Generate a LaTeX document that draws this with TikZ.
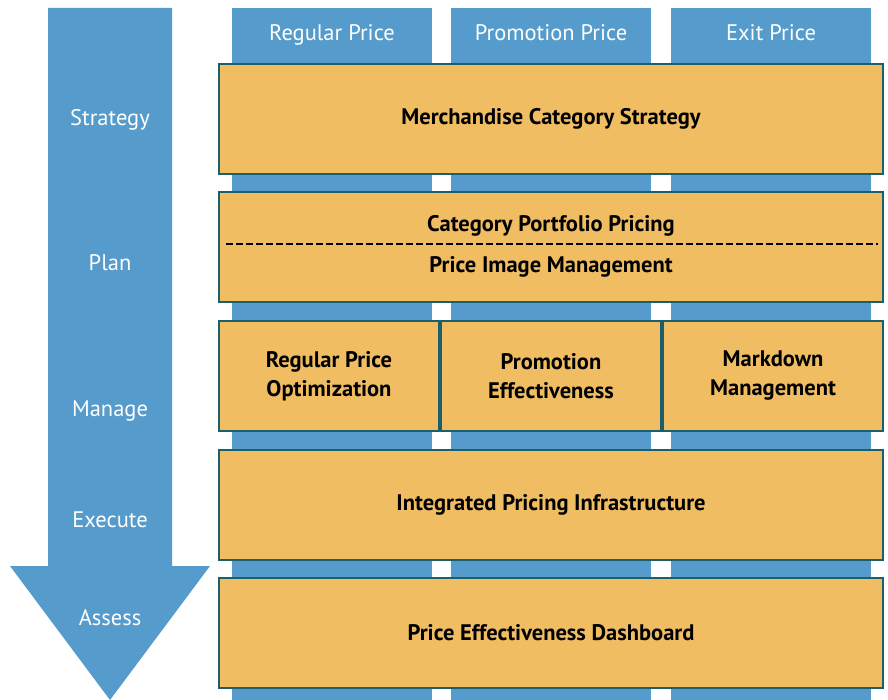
\documentclass[tikz,border=0pt]{standalone}
\usepackage{fontspec}
\setmainfont{PT Sans}
\usetikzlibrary{calc}
\definecolor{stepblue}{HTML}{559BCB}
\definecolor{layerfill}{HTML}{F0BD62}
\definecolor{layeredge}{HTML}{1D5E6C}

\begin{document}
\begin{tikzpicture}[x=1pt,y=-1pt,
  steplabel/.style={text=white,anchor=base,font=\fontsize{22.5}{26}\selectfont},
  layertext/.style={font=\fontsize{22.5}{29}\selectfont\bfseries},
  layer/.style={draw=layeredge,line width=2pt,fill=layerfill,inner sep=0pt,
    minimum width=664pt,minimum height=110pt,align=center,layertext},
  cell/.style={layer,minimum width=220pt}]
  \useasboundingbox (0,0) rectangle (888,700);

  % process arrow on the left
  \fill[stepblue] (48,8) -- (172,8) -- (172,566) -- (210,566) -- (110,700)
    -- (10,566) -- (48,566) -- cycle;
  \node[steplabel] (strategy) at (110,126) {Strategy};
  \node[steplabel] (plan)     at (110,271) {Plan};
  \node[steplabel] (manage)   at (110,416) {Manage};
  \node[steplabel] (execute)  at (110,527) {Execute};
  \node[steplabel] (assess)   at (110,625) {Assess};

  % price columns behind the layers
  \fill[stepblue] (232,8) rectangle (432,700);
  \fill[stepblue] (451,8) rectangle (651,700);
  \fill[stepblue] (671,8) rectangle (871,700);
  \node[steplabel] (regular)   at (332,41) {Regular Price};
  \node[steplabel] (promotion) at (551,41) {Promotion Price};
  \node[steplabel] (exit)      at (771,41) {Exit Price};

  % layers
  \node[layer] (merch) at (551,119) {Merchandise Category Strategy};
  \node[layer] (portfolio) at (551,247.5) {};
  \node[layertext,anchor=base] (catpricing) at (551,232) {Category Portfolio Pricing};
  \node[layertext,anchor=base] (priceimage) at (551,273) {Price Image Management};
  \draw[line width=2pt,dash pattern=on 7pt off 3pt] (226,244) -- (878,244);

  \node[cell] (regopt)   at (329,376) {Regular Price\\Optimization};
  \node[cell] (promoeff) at (551,376) {Promotion\\Effectiveness};
  \node[cell] (markdown) at (773,376) {Markdown\\Management};

  \node[layer] (infra) at (551,504.5) {Integrated Pricing Infrastructure};
  \node[layer] (dashboard) at (551,633) {Price Effectiveness Dashboard};
\end{tikzpicture}
\end{document}
